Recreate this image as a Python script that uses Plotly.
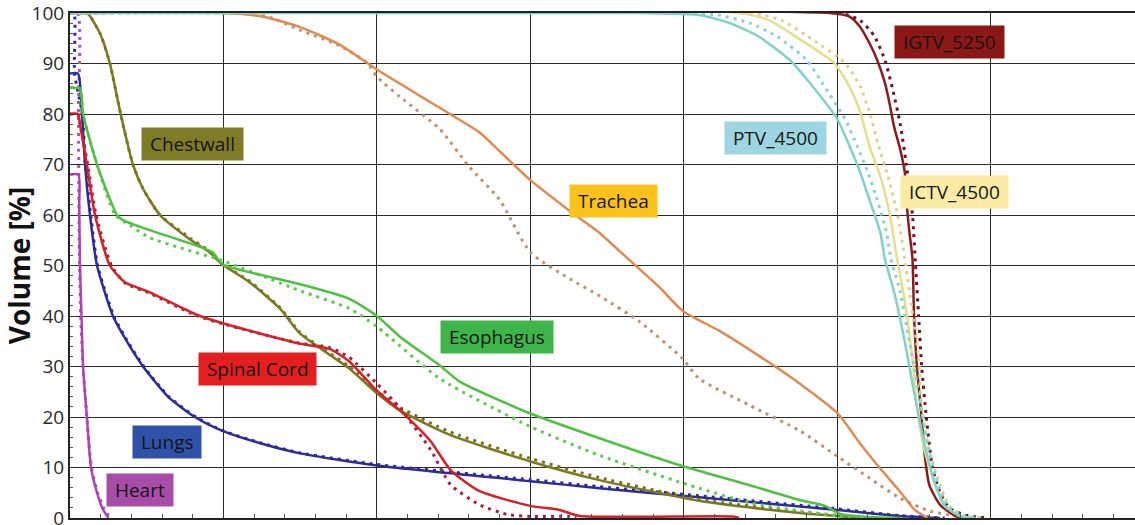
import plotly.graph_objects as go

# ---- data (dose in Gy, volume in %) ----
heart_dose = [0, 0.55, 0.6, 0.65, 0.75, 0.85, 1.1, 1.37, 1.76, 2.1, 2.5]
heart_vol = [68, 68, 62, 50, 40, 30, 20, 10, 5, 2, 0]
heart_dot_dose = [0, 0.5, 0.55, 0.6, 0.7, 0.85, 1.1, 1.4, 1.8, 2.2, 2.6]
heart_dot_vol = [100, 100, 80, 55, 40, 30, 20, 10, 5, 2, 0]

lungs_dose = [0, 0.52, 0.78, 0.98, 1.3, 1.76, 2.8, 3.6, 4.76, 6.4, 8.14, 9.9, 12.4, 15, 20, 30, 34.5, 41, 50, 54, 56.7]
lungs_vol = [88, 88, 80, 70, 60, 50, 40, 35.5, 30, 24, 20, 17.3, 14.8, 12.8, 10.4, 7.3, 5.9, 4.1, 1.6, 0.4, 0]
lungs_dot_dose = [0, 0.26, 0.3, 0.8, 1.0, 1.35, 1.8, 2.85, 3.65, 4.8, 6.45, 8.2, 9.95, 12.5, 15, 20, 30, 34.5, 41, 50, 54, 57]
lungs_dot_vol = [100, 100, 88, 80, 70, 60, 50, 40, 35.5, 30, 24, 20, 17.3, 14.8, 12.9, 10.6, 7.6, 6.2, 4.4, 1.8, 0.5, 0]

cord_dose = [0, 0.52, 0.65, 1.1, 1.63, 2.6, 3.58, 5.2, 8.14, 9.9, 15, 16.9, 18.2, 20, 21.5, 23.5, 24.8, 26.7, 30, 31.9, 33.2, 43.2, 43.6]
cord_vol = [80, 80, 78, 70, 60, 50, 46.7, 44.7, 40.4, 38.6, 34.5, 33.5, 31, 25.2, 21.3, 15.2, 9.5, 5.3, 2.4, 1.6, 0.4, 0.3, 0]
cord_dot_dose = [0, 0.52, 0.65, 1.15, 1.7, 2.7, 3.6, 5.2, 8.14, 9.9, 15, 16.9, 18.2, 20, 21.5, 23.5, 24.8, 26.7, 28.5, 30, 32.5, 33]
cord_dot_vol = [80, 80, 78, 70, 60, 50, 46.5, 44.5, 40.2, 38.5, 34.6, 33.8, 31.8, 26.6, 21.8, 13.5, 6.6, 2.6, 0.7, 0.3, 0.3, 0]

eso_dose = [0, 0.65, 0.85, 1.76, 3.06, 3.45, 5.2, 7.2, 9.3, 9.9, 15, 18.2, 20, 21.5, 24.1, 25.4, 30, 34.5, 39.9, 44.3, 47.6, 49.2, 50.2, 52.1, 54.1]
eso_vol = [85.2, 85, 80, 70, 60, 59, 57, 55, 52.6, 50.3, 46.3, 43.4, 40, 35.9, 30.2, 27, 20.7, 15.8, 10.3, 6.5, 3.5, 2.4, 0.8, 0.2, 0]
eso_dot_dose = [0, 0.65, 0.85, 1.76, 2.95, 3.9, 5.2, 7.2, 9.9, 15, 18.2, 20, 24.1, 30, 34.5, 41, 44.3, 47.6, 50.2, 52.1]
eso_dot_vol = [85.2, 85, 80, 70, 60, 58, 55.5, 53.5, 51, 45, 41.5, 37.9, 27.6, 18.1, 12.4, 5.9, 3, 1.4, 0.4, 0]

chest_dose = [0, 1.1, 1.95, 2.6, 3.3, 4.1, 4.76, 5.86, 7.8, 9.1, 9.9, 11.7, 13.7, 15, 18.2, 20, 21.5, 24.8, 30, 34.5, 41, 47.6, 50, 51.5]
chest_vol = [100, 100, 96, 90, 80, 70, 65.2, 60, 55.2, 52.6, 50.3, 46.7, 41.4, 36.5, 29.6, 24.7, 21.3, 16.4, 11.2, 7.5, 3.4, 1, 0.4, 0]
chest_dot_dose = [0, 1.1, 1.95, 2.6, 3.3, 4.1, 4.76, 5.86, 7.8, 9.1, 9.9, 11.7, 13.7, 15, 18.2, 20, 21.5, 24.8, 30, 34.5, 41, 47.6, 50, 52]
chest_dot_vol = [100, 100, 96, 90, 80, 70, 65.2, 60, 55.5, 52.8, 50.3, 46.9, 41.6, 36.7, 30, 25.2, 21.9, 17, 11.8, 8, 3.7, 1.2, 0.5, 0]

trach_dose = [0, 9.9, 12.38, 15.0, 17.59, 20.0, 22.8, 24.76, 26.71, 28.01, 29.97, 32.57, 34.53, 35.83, 38.44, 39.93, 42.35, 44.95, 47.56, 50.03, 51.47, 52.77, 54.07, 55.05, 55.9]
trach_vol = [100, 100, 99.4, 97.2, 93.7, 88.8, 83.6, 80.0, 76.3, 72.6, 67.0, 60.8, 56.4, 52.8, 45.6, 41.0, 37.0, 32.0, 26.6, 20.7, 14.8, 9.9, 5.3, 1.6, 0]
trach_dot_dose = [0, 9.9, 11.7, 13, 15, 17.6, 19.4, 20, 21.5, 24.1, 26, 28, 30, 32.6, 34.5, 37.1, 39.9, 41, 44.3, 47.6, 50, 52.1, 54.1, 56, 58, 59.6]
trach_dot_vol = [100, 100, 99.8, 99.2, 96.6, 93.5, 90, 87.4, 83.4, 77, 69.6, 63, 52.6, 47.3, 44, 38.9, 31.6, 27.6, 22.3, 17.2, 12.2, 7.9, 3.9, 1.4, 0.3, 0]

ptv_dose = [0, 37.1, 41, 43, 44.9, 46.9, 48.2, 50, 50.8, 51.5, 52.1, 52.8, 53.1, 53.7, 54.4, 55, 55.7, 56.4, 57, 58, 59]
ptv_vol = [100, 100, 99.6, 98, 95.3, 90.7, 86.2, 79, 73.6, 68.4, 63, 56.6, 51.3, 44.8, 34.9, 25, 14.4, 6.5, 2.4, 0.4, 0]
ptv_dot_dose = [0, 38.5, 42.2, 44.3, 46.1, 48.0, 49.0, 50.5, 51.3, 52.0, 52.6, 53.2, 53.5, 54.1, 54.7, 55.3, 55.9, 56.6, 57.2, 58.2, 59.2]
ptv_dot_vol = [100, 100, 99.6, 98, 95.3, 90.7, 86.2, 79, 73.6, 68.4, 63, 56.6, 51.3, 44.8, 34.9, 25, 14.4, 6.5, 2.4, 0.4, 0]

ictv_dose = [0, 43.6, 45.6, 47.6, 49.8, 50.8, 51.5, 52.1, 52.8, 53.4, 53.9, 54.4, 54.9, 55.2, 55.7, 56.4, 57, 58, 59]
ictv_vol = [100, 100, 98.5, 94.7, 90.1, 85.4, 80.3, 73.6, 67.7, 60.5, 51.3, 42.8, 31.6, 21.7, 13.2, 6.5, 2.4, 0.4, 0]
ictv_dot_dose = [0, 44.4, 46.4, 48.4, 50.5, 51.5, 52.1, 52.7, 53.3, 53.9, 54.4, 54.8, 55.3, 55.5, 56, 56.7, 57.3, 58.3, 59.3]
ictv_dot_vol = [100, 100, 98.5, 94.7, 90.1, 85.4, 80.3, 73.6, 67.7, 60.5, 51.3, 42.8, 31.6, 21.7, 13.2, 6.5, 2.4, 0.4, 0]

igtv_dose = [0, 49.5, 50.8, 51.5, 52.1, 52.6, 53.1, 53.4, 53.7, 54.1, 54.4, 54.5, 54.7, 54.9, 55, 55.2, 55.5, 55.7, 56, 56.7, 57.7, 58.6]
igtv_vol = [100, 100, 99.3, 97.2, 94, 90.7, 86.2, 82.2, 77.5, 73, 68.4, 63, 56.6, 51.3, 40, 29.6, 19.7, 12.4, 6.5, 2.6, 0.4, 0]
igtv_dot_dose = [0, 50.2, 51.5, 52.4, 53.1, 53.6, 54.1, 54.5, 54.9, 55.1, 55.3, 55.5, 55.8, 56.2, 56.7, 57.3, 58.3, 59.9]
igtv_dot_vol = [100, 100, 98.5, 95.5, 90.7, 85, 78, 70, 60, 50, 40, 30, 20, 10, 5, 2, 0.6, 0]

label_text = ["IGTV_5250", "PTV_4500", "ICTV_4500", "Trachea", "Chestwall", "Esophagus", "Spinal Cord", "Lungs", "Heart"]
label_x = [57.3, 46.0, 57.65, 35.4, 7.95, 27.8, 12.2, 6.3, 4.56]
label_y = [94.3, 75.3, 64.5, 62.7, 74.0, 35.9, 29.6, 15.0, 5.5]
label_bg = ["#8c1717", "#9dd5e0", "#fbeba5", "#fbc21b", "#807b26", "#3db54a", "#e41f1f", "#2f52a8", "#a84ca8"]

y_ticks = [0, 10, 20, 30, 40, 50, 60, 70, 80, 90, 100]
x_ticks = [0, 10, 20, 30, 40, 50, 60]

# ---- figure ----
fig = go.Figure()

series = [
    (heart_dose, heart_vol, heart_dot_dose, heart_dot_vol, "#b23fb6", "#b452b8"),
    (lungs_dose, lungs_vol, lungs_dot_dose, lungs_dot_vol, "#2b2b9a", "#2a2aa4"),
    (chest_dose, chest_vol, chest_dot_dose, chest_dot_vol, "#7b781e", "#75731f"),
    (eso_dose, eso_vol, eso_dot_dose, eso_dot_vol, "#50c040", "#5ccc4c"),
    (cord_dose, cord_vol, cord_dot_dose, cord_dot_vol, "#d61f26", "#a3223a"),
    (trach_dose, trach_vol, trach_dot_dose, trach_dot_vol, "#e08a52", "#c4906c"),
    (igtv_dose, igtv_vol, igtv_dot_dose, igtv_dot_vol, "#8b1c1c", "#6e1028"),
    (ictv_dose, ictv_vol, ictv_dot_dose, ictv_dot_vol, "#e6de8c", "#d4d48e"),
    (ptv_dose, ptv_vol, ptv_dot_dose, ptv_dot_vol, "#80d2c8", "#86d4cb"),
]

for sd, sv, dd, dv, c_solid, c_dot in series:
    fig.add_trace(go.Scatter(x=dd, y=dv, mode="lines",
                             line=dict(color=c_dot, width=3, dash="3px,5px", shape="spline", smoothing=0.6),
                             showlegend=False, hoverinfo="skip"))
    fig.add_trace(go.Scatter(x=sd, y=sv, mode="lines",
                             line=dict(color=c_solid, width=2.5, shape="spline", smoothing=0.6),
                             showlegend=False, hoverinfo="skip"))

for t, x, y, bg in zip(label_text, label_x, label_y, label_bg):
    fig.add_annotation(x=x, y=y, xref="x", yref="y", text="&nbsp;" + t + "&nbsp;", showarrow=False,
                       bgcolor=bg, borderpad=3,
                       font=dict(family="Open Sans", size=19, color="#151515"))

fig.update_layout(
    width=1135, height=525,
    margin=dict(l=70, r=0, t=13, b=7, autoexpand=False),
    paper_bgcolor="white", plot_bgcolor="white",
    font=dict(family="Open Sans", color="#333333"),
)
fig.update_xaxes(range=[0, 69.4], tickvals=x_ticks, showticklabels=False,
                 showgrid=True, gridcolor="#2a2a2a", gridwidth=1.2,
                 showline=True, linecolor="#222222", linewidth=2, mirror=True,
                 ticks="inside", ticklen=5, tickcolor="#333333",
                 minor=dict(dtick=2, ticks="inside", ticklen=4, tickcolor="#555555", showgrid=False),
                 zeroline=False, automargin=False)
fig.update_yaxes(range=[0, 100], tickvals=y_ticks,
                 showgrid=True, gridcolor="#2a2a2a", gridwidth=1.2,
                 showline=True, linecolor="#222222", linewidth=2,
                 ticks="inside", ticklen=5, tickcolor="#333333",
                 minor=dict(dtick=2, ticks="inside", ticklen=3, tickcolor="#555555", showgrid=False),
                 tickfont=dict(family="Open Sans", size=19, color="#2a2a2a"),
                 ticklabeloverflow="allow",
                 title=dict(text="<b>Volume [%]</b>", font=dict(family="Open Sans", size=28, color="#111111"), standoff=6),
                 zeroline=False, automargin=False)

# remove the default page margin so the figure fills the window exactly
fig.write_html("out.html", config={"displayModeBar": False},
               post_script="document.body.style.margin='0';document.body.style.overflow='hidden';")
